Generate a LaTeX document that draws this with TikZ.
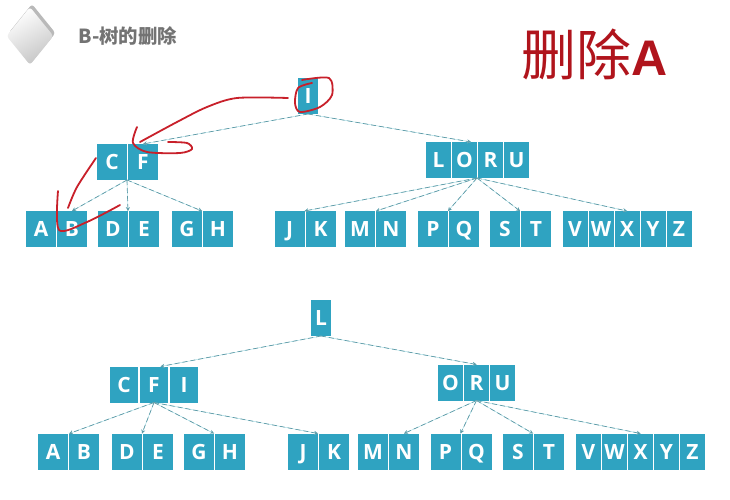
\documentclass[tikz,border=0pt]{standalone}
\usepackage{fontspec}
\setmainfont{Open Sans}
\newfontfamily\cjk{Noto Sans CJK SC}
\newfontfamily\heavy{Liberation Sans}
\usetikzlibrary{%
    shapes.geometric,%
    shadows,%
    positioning,%
    calc%
}
\definecolor{cell}{HTML}{2FA3C1}
\definecolor{linkdark}{HTML}{5F9AA6}
\definecolor{linklight}{HTML}{9AD6E0}
\definecolor{ink}{HTML}{C8202A}
\definecolor{headred}{HTML}{B0141C}
\tikzset{
    key/.style = {fill = cell, text = white, inner sep = 0pt, outer sep = 0pt,
    minimum height = 36, minimum width = 30, text height = 15, text depth = 0,
    font = \fontsize{21}{21}\selectfont\bfseries},
    keyroot/.style = {key, minimum width = 20},
    keymid/.style = {key, minimum width = 28},
    keyslim/.style = {key, minimum width = 25},
    link/.style = {draw = linkdark, line width = 0.7pt, dash pattern = on 5pt off 3pt,
    preaction = {draw = linklight, solid}, -stealth},
    pen/.style = {draw = ink, line width = 1.8pt, smooth, line cap = round, line join = round}
}

\begin{document}
\begin{tikzpicture}[x=1pt,y=-1pt]
    \useasboundingbox (0,0) rectangle (730,500);
    % heading
    \node (mark) [diamond, aspect = 0.8, minimum width = 47, minimum height = 58, inner sep = 0pt,
        rounded corners = 3, shading = axis, top color = white, bottom color = gray!45, shading angle = 30,
        general shadow = {fill = gray!55, shadow xshift = 2, shadow yshift = -3}] at (30,36) {};
    \node (title) [anchor = west, text = gray!90!black, font = \cjk\bfseries\fontsize{19.4}{19.4}\selectfont] at (75,36) {B-树的删除};
    \node (task) [anchor = west, text = headred, inner sep = 0pt] at (521,54) {\cjk\fontsize{55}{55}\selectfont 删除\heavy\bfseries\fontsize{50}{50}\selectfont A};

    % upper tree
    \node (i) [keyroot] at (308,96) {I};
    \node (c) [key] at (112,162) {C};
    \node (f) [key, right = 1pt of c] {F};
    \node (l) [keyslim] at (438.5,160) {L};
    \node (o) [keyslim, right = 1pt of l] {O};
    \node (r) [keyslim, right = 1pt of o] {R};
    \node (u) [keyslim, right = 1pt of r] {U};
    \node (a) [key] at (41,229) {A};
    \node (b) [key, right = 1pt of a] {B};
    \node (d) [key] at (113,229) {D};
    \node (e) [key, right = 1pt of d] {E};
    \node (g) [key] at (187,229) {G};
    \node (h) [key, right = 1pt of g] {H};
    \node (j) [key] at (289.5,229) {J};
    \node (k) [key, right = 1pt of j] {K};
    \node (m) [key] at (360,229) {M};
    \node (n) [key, right = 1pt of m] {N};
    \node (p) [key] at (433,229) {P};
    \node (q) [key, right = 1pt of p] {Q};
    \node (s) [key] at (505,229) {S};
    \node (t) [key, right = 1pt of s] {T};
    \node (v) [keyslim] at (575,229) {V};
    \node (w) [keyslim, right = 1pt of v] {W};
    \node (x) [keyslim, right = 1pt of w] {X};
    \node (y) [keyslim, right = 1pt of x] {Y};
    \node (z) [keyslim, right = 1pt of y] {Z};

    \draw[link] (i.south) -- (f.north);
    \draw[link] (i.south) -- (o.70);
    \draw[link] (c.south east) -- (b.north);
    \draw[link] (c.south east) -- (d.north east);
    \draw[link] (c.south east) -- (g.north east);
    \draw[link] (o.south east) -- (j.north east);
    \draw[link] (o.south east) -- (n.north west);
    \draw[link] (o.south east) -- (p.north east);
    \draw[link] (o.south east) -- (s.north east);
    \draw[link] (o.south east) -- (x.north);

    % lower tree
    \node (l2) [keyroot] at (321,318) {L};
    \node (c2) [keymid] at (124,384.5) {C};
    \node (f2) [keymid, right = 2pt of c2] {F};
    \node (i2) [keymid, right = 2pt of f2] {I};
    \node (o2) [keyslim] at (450.5,382.5) {O};
    \node (r2) [keyslim, right = 1pt of o2] {R};
    \node (u2) [keyslim, right = 1pt of r2] {U};
    \node (a2) [key] at (53,451.5) {A};
    \node (b2) [key, right = 1pt of a2] {B};
    \node (d2) [key] at (127,451.5) {D};
    \node (e2) [key, right = 1pt of d2] {E};
    \node (g2) [key] at (199,451.5) {G};
    \node (h2) [key, right = 1pt of g2] {H};
    \node (j2) [key] at (303,451.5) {J};
    \node (k2) [key, right = 1pt of j2] {K};
    \node (m2) [key] at (373,451.5) {M};
    \node (n2) [key, right = 1pt of m2] {N};
    \node (p2) [key] at (445.5,451.5) {P};
    \node (q2) [key, right = 1pt of p2] {Q};
    \node (s2) [key] at (518,451.5) {S};
    \node (t2) [key, right = 1pt of s2] {T};
    \node (v2) [keyslim] at (588.5,451.5) {V};
    \node (w2) [keyslim, right = 1pt of v2] {W};
    \node (x2) [keyslim, right = 1pt of w2] {X};
    \node (y2) [keyslim, right = 1pt of x2] {Y};
    \node (z2) [keyslim, right = 1pt of y2] {Z};

    \draw[link] (l2.south) -- (f2.70);
    \draw[link] (l2.south) -- (r2.north);
    \draw[link] (f2.south) -- (b2.130);
    \draw[link] (f2.south) -- (d2.north east);
    \draw[link] (f2.south) -- (g2.north east);
    \draw[link] (f2.south) -- (j2.north east);
    \draw[link] (r2.south) -- (n2.north);
    \draw[link] (r2.south) -- (p2.north east);
    \draw[link] (r2.south) -- (s2.north east);
    \draw[link] (r2.south) -- (x2.north);

    % handwriting
    \draw[pen] plot coordinates {(302,80) (329,78) (332,95) (320,107) (300,112) (295,103) (298,88) (312,83)};
    \draw[pen] plot coordinates {(288,98) (237,98) (207,107) (177,122) (140,142)};
    \draw[pen] plot coordinates {(137,127) (133,143) (147,152) (180,153) (192,149) (187,143) (168,142)};
    \draw[pen] plot coordinates {(96,158) (77,187) (68,208)};
    \draw[pen] plot coordinates {(58,191) (59,230) (87,222) (120,205)};
\end{tikzpicture}
\end{document}
